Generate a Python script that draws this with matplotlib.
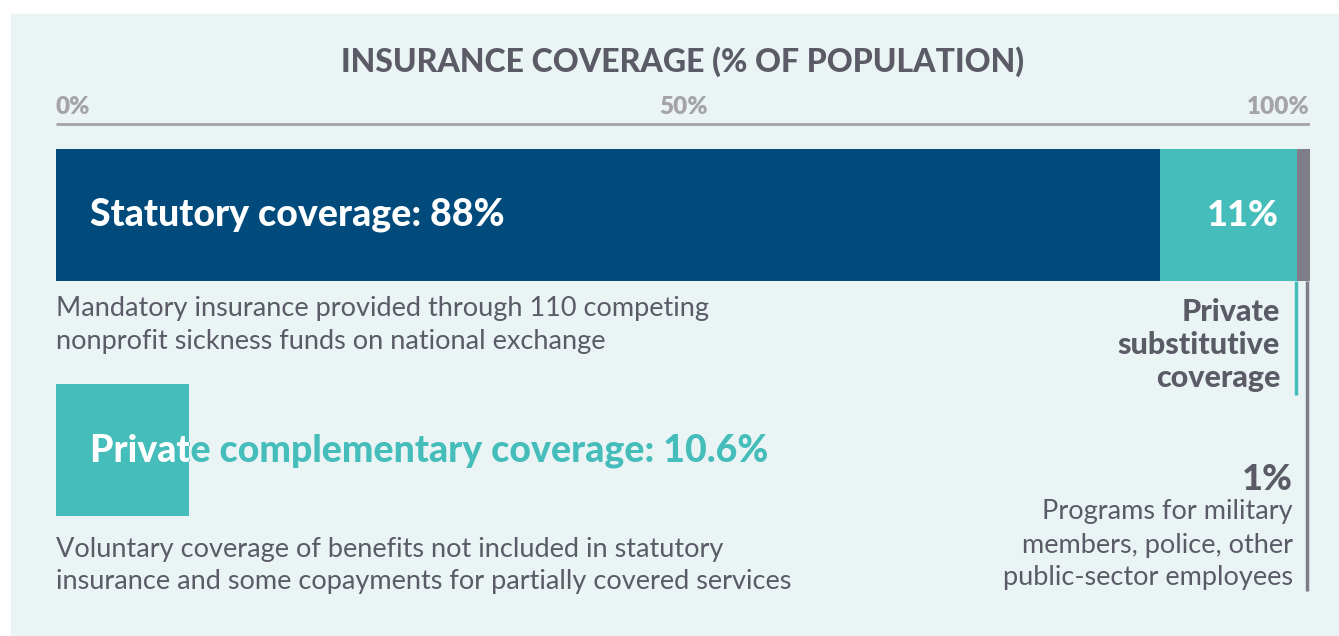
import matplotlib.pyplot as plt
from matplotlib.patches import Rectangle
from matplotlib.transforms import TransformedBbox

# data (% of population)
statutory = 88
private_sub = 11
public_prog = 1
private_comp = 10.6

ticks = [0, 50, 100]
tick_labels = ["0%", "50%", "100%"]

title = "INSURANCE COVERAGE (% OF POPULATION)"
stat_label = "Statutory coverage: 88%"
stat_note = "Mandatory insurance provided through 110 competing\nnonprofit sickness funds on national exchange"
sub_label = "11%"
sub_note = "Private\nsubstitutive\ncoverage"
comp_label = "Private complementary coverage: 10.6%"
comp_note = ("Voluntary coverage of benefits not included in statutory\n"
             "insurance and some copayments for partially covered services")
pub_label = "1%"
pub_note = "Programs for military\nmembers, police, other\npublic-sector employees"

navy = "#004b7c"
teal = "#45bdba"
grey = "#7d7e87"
dark = "#5a5b66"
light = "#a3a3a8"
bg = "#eaf4f5"

W, H = 1339, 636
plt.rcParams['font.family'] = ['Lato', 'DejaVu Sans']

fig = plt.figure(figsize=(W / 100, H / 100), dpi=100)
fig.patches.append(Rectangle((11 / W, 0), 1 - 11 / W, (H - 14) / H,
                             transform=fig.transFigure, color=bg, zorder=-10))

x0, x1 = 56, 1310
ax = fig.add_axes([x0 / W, 0, (x1 - x0) / W, 1])
ax.set_xlim(0, 100)
ax.set_ylim(H, 0)
ax.axis('off')


def px(p):
    # pixel column -> percent scale
    return (p - x0) / (x1 - x0) * 100


# axis line and ticks
ax.plot([0, 100], [124, 124], color=light, lw=2, solid_capstyle='butt')
for t, lab in zip(ticks, tick_labels):
    ha = 'left' if t == 0 else ('right' if t == 100 else 'center')
    ax.text(t, 107, lab, ha=ha, va='center', color=light, fontsize=17.5, fontweight='heavy')
ax.text(50, 62, title, ha='center', va='center', color=dark, fontsize=23, fontweight='black')

# stacked bar
bar_y, bar_h = 215, 132
ax.barh(bar_y, statutory, height=bar_h, left=0, color=navy, lw=0)
ax.barh(bar_y, private_sub, height=bar_h, left=statutory, color=teal, lw=0)
ax.barh(bar_y, public_prog, height=bar_h, left=statutory + private_sub, color=grey, lw=0)

# leader lines
ax.plot([statutory + private_sub - 0.1] * 2, [281, 395], color=teal, lw=2.5, solid_capstyle='butt')
ax.plot([100 - 0.2] * 2, [281, 591], color=grey, lw=2.5, solid_capstyle='butt')

ax.text(px(90), 215, stat_label, ha='left', va='center', color='white', fontsize=27, fontweight='black')
ax.text(px(1279), 215, sub_label, ha='right', va='center', color='white', fontsize=26, fontweight='black')
ax.text(0, 325, stat_note, ha='left', va='center', color=dark, fontsize=19.5, linespacing=1.4)
ax.text(px(1280), 345, sub_note, ha='right', va='center', color=dark, fontsize=22,
        fontweight='black', linespacing=1.2)

# complementary coverage square, label turns white where it overlaps
comp = ax.barh(450, private_comp, height=bar_h, left=0, color=teal, lw=0)[0]
ax.text(px(90), 451, comp_label, ha='left', va='center', color=teal, fontsize=27, fontweight='black')
wt = ax.text(px(90), 451, comp_label, ha='left', va='center', color='white', fontsize=27,
             fontweight='black', clip_on=True)
wt.set_clip_path(None)
wt.set_clip_box(TransformedBbox(comp.get_bbox(), ax.transData))
ax.text(0, 565, comp_note, ha='left', va='center', color=dark, fontsize=19.5, linespacing=1.35)

ax.text(px(1293), 480, pub_label, ha='right', va='center', color=dark, fontsize=26, fontweight='black')
ax.text(px(1293), 545, pub_note, ha='right', va='center', color=dark, fontsize=19.5, linespacing=1.4)

fig.savefig("out.png", dpi=100)
